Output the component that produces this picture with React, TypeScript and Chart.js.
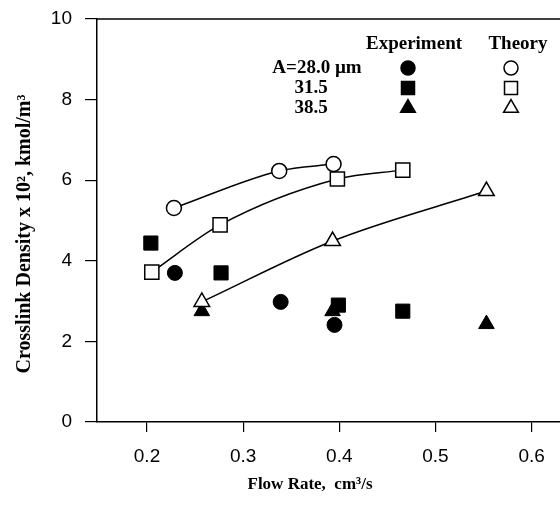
import React, { useEffect, useRef } from "react";
import { Chart, registerables } from "chart.js";

Chart.register(...registerables);

// Experiment (filled symbols)
const expFlow28 = [0.229, 0.339, 0.395];
const expDens28 = [3.70, 2.98, 2.41];
const expFlow315 = [0.204, 0.277, 0.399, 0.466];
const expDens315 = [4.44, 3.70, 2.90, 2.75];
const expFlow385 = [0.257, 0.393, 0.553];
const expDens385 = [2.75, 2.75, 2.43];

// Theory (open symbols, smooth lines)
const thFlow28 = [0.228, 0.3375, 0.394];
const thDens28 = [5.31, 6.23, 6.40];
const thFlow315 = [0.205, 0.276, 0.398, 0.466];
const thDens315 = [3.72, 4.89, 6.03, 6.25];
const thFlow385 = [0.257, 0.393, 0.553];
const thDens385 = [2.98, 4.49, 5.73];

const xTicks = [0.2, 0.3, 0.4, 0.5, 0.6];
const yTicks = [0, 2, 4, 6, 8, 10];

const legendRows = ["A=28.0 \u00b5m", "31.5", "38.5"];
const legendShapes = ["circle", "rect", "triangle"];

const zip = (xs: number[], ys: number[]) => xs.map((x, i) => ({ x, y: ys[i] }));

const SERIF = "'Liberation Serif', 'Times New Roman', serif";
const SANS = "'Liberation Sans', Arial, sans-serif";

function drawShape(ctx: CanvasRenderingContext2D, shape: string, x: number, y: number, filled: boolean) {
  ctx.save();
  ctx.beginPath();
  if (shape === "circle") {
    ctx.arc(x, y, 7, 0, Math.PI * 2);
  } else if (shape === "rect") {
    ctx.rect(x - 6.5, y - 6.5, 13, 13);
  } else {
    const r = 8.5;
    ctx.moveTo(x, y - r);
    ctx.lineTo(x + r * Math.sin((2 * Math.PI) / 3), y - r * Math.cos((2 * Math.PI) / 3));
    ctx.lineTo(x + r * Math.sin((4 * Math.PI) / 3), y - r * Math.cos((4 * Math.PI) / 3));
    ctx.closePath();
  }
  ctx.fillStyle = filled ? "#000" : "#fff";
  ctx.fill();
  ctx.lineWidth = 1.5;
  ctx.strokeStyle = "#000";
  ctx.stroke();
  ctx.restore();
}

const annotations = {
  id: "annotations",
  afterDraw(chart: any) {
    const ctx: CanvasRenderingContext2D = chart.ctx;
    const area = chart.chartArea;
    ctx.save();
    // top frame line
    ctx.strokeStyle = "#000";
    ctx.lineWidth = 1.5;
    ctx.beginPath();
    ctx.moveTo(area.left, area.top);
    ctx.lineTo(area.right, area.top);
    ctx.stroke();

    ctx.fillStyle = "#000";
    // y title
    ctx.save();
    ctx.translate(25, 234);
    ctx.rotate(-Math.PI / 2);
    ctx.font = `bold 20px ${SERIF}`;
    ctx.textAlign = "center";
    ctx.textBaseline = "middle";
    ctx.fillText("Crosslink Density x 10\u00b2, kmol/m\u00b3", 0, 0);
    ctx.restore();

    // x title
    ctx.font = `bold 17px ${SERIF}`;
    ctx.textAlign = "center";
    ctx.textBaseline = "middle";
    ctx.fillText("Flow Rate,  cm\u00b3/s", 310, 485);

    // legend
    ctx.font = `bold 19px ${SERIF}`;
    ctx.fillText("Experiment", 414, 44);
    ctx.fillText("Theory", 518, 44);
    const rowY = [68, 88, 108];
    ctx.textAlign = "center";
    ctx.fillText(legendRows[0], 317, rowY[0]);
    ctx.fillText(legendRows[1], 311, rowY[1]);
    ctx.fillText(legendRows[2], 311, rowY[2]);
    legendShapes.forEach((s, i) => {
      drawShape(ctx, s, 408, rowY[i], true);
      drawShape(ctx, s, 511, rowY[i], false);
    });
    ctx.restore();
  },
};

export default function App() {
  const ref = useRef<HTMLCanvasElement | null>(null);
  useEffect(() => {
    if (!ref.current) return;
    const filled = (label: string, data: any[], style: string, r: number) => ({
      type: "scatter" as const,
      label,
      data,
      showLine: false,
      pointStyle: style,
      pointRadius: r,
      pointBackgroundColor: "#000",
      pointBorderColor: "#000",
      pointBorderWidth: 1,
    });
    const open = (label: string, data: any[], style: string, r: number) => ({
      type: "line" as const,
      label,
      data,
      showLine: true,
      borderColor: "#000",
      borderWidth: 1.5,
      cubicInterpolationMode: "monotone" as const,
      fill: false,
      pointStyle: style,
      pointRadius: r,
      pointBackgroundColor: "#fff",
      pointBorderColor: "#000",
      pointBorderWidth: 1.5,
    });
    const chart = new Chart(ref.current, {
      type: "scatter",
      data: {
        datasets: [
          open("Theory 28.0", zip(thFlow28, thDens28), "circle", 7.5),
          open("Theory 31.5", zip(thFlow315, thDens315), "rect", 10),
          open("Theory 38.5", zip(thFlow385, thDens385), "triangle", 9),
          filled("Exp 28.0", zip(expFlow28, expDens28), "circle", 7.5),
          filled("Exp 31.5", zip(expFlow315, expDens315), "rect", 10),
          filled("Exp 38.5", zip(expFlow385, expDens385), "triangle", 9),
        ] as any,
      },
      options: {
        animation: false,
        responsive: false,
        devicePixelRatio: 1,
        layout: { autoPadding: false, padding: { top: 19, right: 0, left: 0, bottom: 0 } },
        plugins: { legend: { display: false }, tooltip: { enabled: false } },
        scales: {
          x: {
            type: "linear",
            min: 0.148,
            max: 0.6295,
            afterFit: (s: any) => {
              s.height = 84;
              s.paddingLeft = 0;
              s.paddingRight = 0;
            },
            afterBuildTicks: (s: any) => {
              s.ticks = xTicks.map((v) => ({ value: v }));
            },
            border: { color: "#000", width: 1.5 },
            grid: { drawOnChartArea: false, drawTicks: true, tickLength: 10, color: "#000", lineWidth: 1.2 },
            ticks: {
              color: "#000",
              font: { family: SANS, size: 19 },
              padding: 13,
              maxRotation: 0,
              callback: (v: any) => Number(v).toFixed(1),
            },
          },
          y: {
            type: "linear",
            min: 0,
            max: 10,
            afterFit: (s: any) => {
              s.width = 97;
              s.paddingTop = 0;
              s.paddingBottom = 0;
            },
            afterBuildTicks: (s: any) => {
              s.ticks = yTicks.map((v) => ({ value: v }));
            },
            border: { color: "#000", width: 1.5 },
            grid: { drawOnChartArea: false, drawTicks: true, tickLength: 12, color: "#000", lineWidth: 1.2 },
            ticks: {
              color: "#000",
              font: { family: SANS, size: 19 },
              padding: 13,
              callback: (v: any) => String(v),
            },
          },
        },
      },
      plugins: [annotations],
    });
    return () => chart.destroy();
  }, []);
  return (
    <div style={{ position: "absolute", left: 0, top: 0, width: 560, height: 506, background: "#fff" }}>
      <canvas ref={ref} width={560} height={506} style={{ display: "block" }} />
    </div>
  );
}
